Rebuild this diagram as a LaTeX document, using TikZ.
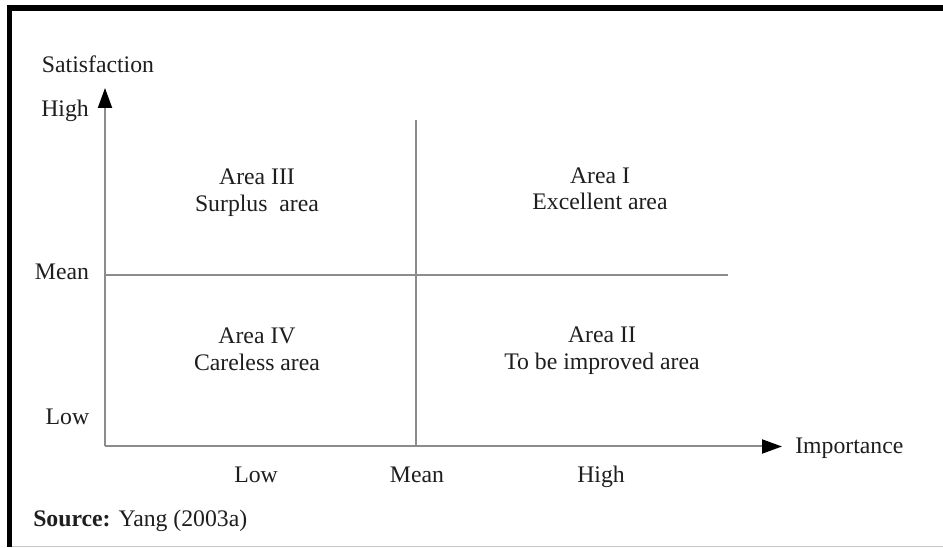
\documentclass[tikz,border=0pt]{standalone}
\usepackage{fontspec}
\setmainfont{Liberation Serif}
\usetikzlibrary{arrows.meta}
\definecolor{axisgray}{HTML}{8C8C8C}
\definecolor{edgegray}{HTML}{C8C8C8}
\definecolor{txt}{HTML}{1E1E1E}
\begin{document}
\begin{tikzpicture}[x=0.75pt,y=-0.75pt,
  axisline/.style={draw=axisgray, line width=1.5pt},
  axisarrow/.style={axisline, -{Triangle[length=15pt,width=10.5pt,color=black]}},
  lbl/.style={inner sep=0pt, anchor=base, text=txt, font=\fontsize{17.8}{21}\selectfont},
  lblw/.style={lbl, anchor=base west},
]
\useasboundingbox (0,0) rectangle (943,548);
\fill[white] (0,0) rectangle (943,548);
% frame
\draw[line width=4.3pt] (7,7.9) -- (943,7.9);
\draw[line width=4pt] (9.7,5) -- (9.7,547);
\draw[edgegray, line width=0.9pt] (12,546.6) -- (943,546.6);

% axes and dividers
\coordinate (O) at (105,446.5);
\coordinate (Ytop) at (105,88);
\coordinate (Xend) at (782,446.5);
\coordinate (Vtop) at (416,120);
\coordinate (Vbot) at (416,446.5);
\coordinate (Ml) at (105,275);
\coordinate (Mr) at (728,275);

\draw[axisline] (Vtop) -- (Vbot);
\draw[axisline] (Ml) -- (Mr);
\draw[axisarrow] (O) -- (Ytop);
\draw[axisarrow] (O) -- (Xend);

% axis labels
\node[lbl] (sat) at (98,73) {Satisfaction};
\node[lbl] (yhigh) at (65,117) {High};
\node[lbl] (ymean) at (62,280) {Mean};
\node[lbl] (ylow) at (67.5,425) {Low};
\node[lblw] (imp) at (795,454) {Importance};
\node[lbl] (xlow) at (256,483) {Low};
\node[lbl] (xmean) at (417,483) {Mean};
\node[lbl] (xhigh) at (601,483) {High};

% areas
\node[lbl] (a3) at (257,185) {Area III};
\node[lbl] (a3d) at (257,212) {Surplus\ \ area};
\node[lbl] (a1) at (600,184) {Area I};
\node[lbl] (a1d) at (600,210) {Excellent area};
\node[lbl] (a4) at (257,344) {Area IV};
\node[lbl] (a4d) at (257,371) {Careless area};
\node[lbl] (a2) at (602,343) {Area II};
\node[lbl] (a2d) at (602,370) {To be improved area};

% source
\node[lblw] (src) at (33,527) {\textbf{Source:} Yang (2003a)};
\end{tikzpicture}
\end{document}
